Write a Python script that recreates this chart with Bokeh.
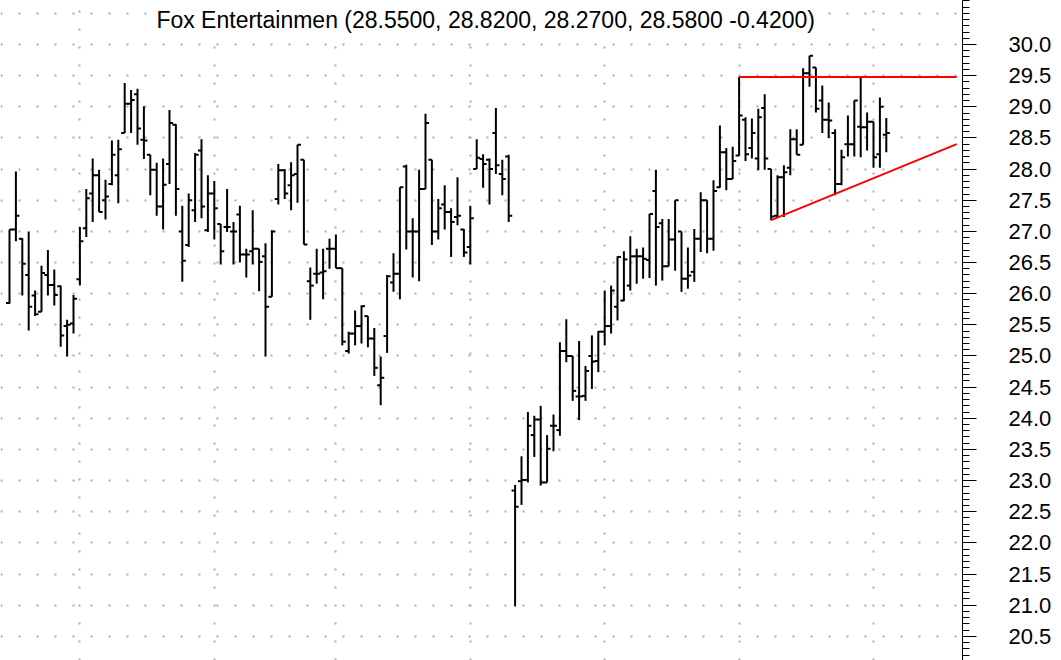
from bokeh.plotting import figure
from bokeh.models import (ColumnDataSource, Range1d, FixedTicker, Label,
                          PrintfTickFormatter)
from bokeh.transform import dodge
from bokeh.embed import file_html
from bokeh.resources import INLINE

# ---------------- data ----------------
opens = [25.85, 27.03, 26.88, 26.30, 25.97, 25.71, 26.30, 26.14, 26.12, 25.48,
         25.52, 26.23, 27.05, 27.61, 27.90, 27.50, 27.76, 27.90, 28.58, 29.05,
         29.20, 28.47, 28.23, 27.99, 27.40, 28.08, 28.71, 27.00, 26.78, 27.34,
         28.30, 27.02, 27.61, 27.12, 27.07, 27.00, 27.27, 26.63, 26.68, 26.72,
         26.60, 25.95, 27.52, 27.98, 27.74, 27.92, 28.15, 26.20, 26.32, 26.34,
         26.72, 26.72, 26.41, 25.08, 25.36, 25.48, 25.64, 25.28, 24.53, 25.32,
         26.18, 26.32, 28.04, 27.00, 27.00, 27.68, 28.15, 27.00, 27.43, 27.31,
         27.23, 27.03, 26.75, 28.00, 28.16, 28.15, 28.58, 27.92, 28.20, 22.84,
         22.99, 23.01, 23.73, 23.98, 22.97, 23.88, 23.81, 25.08, 25.00, 24.35,
         24.36, 25.00, 24.92, 25.39, 25.48, 25.79, 25.89, 26.13, 26.60, 26.60,
         26.54, 27.65, 27.13, 26.44, 26.87, 27.00, 26.24, 26.35, 26.88, 27.50,
         26.88, 27.71, 28.27, 27.84, 28.22, 28.79, 28.34, 28.17, 28.98, 28.00,
         27.25, 27.87, 28.02, 28.48, 28.39, 29.54, 29.63, 29.10, 28.79, 28.58,
         27.76, 28.40, 28.40, 28.68, 28.67, 28.76, 28.24, 28.55]
highs = [27.03, 27.96, 26.89, 27.00, 26.05, 26.45, 26.70, 26.39, 26.13, 25.58,
         25.98, 27.07, 27.68, 28.17, 27.99, 27.83, 28.46, 28.47, 29.38, 29.27,
         29.29, 29.01, 28.23, 28.10, 28.17, 28.95, 28.72, 27.41, 27.61, 28.26,
         28.48, 27.90, 27.81, 27.12, 27.68, 27.15, 27.41, 26.72, 27.34, 26.72,
         26.81, 27.02, 28.08, 28.00, 28.11, 28.39, 28.15, 26.42, 26.72, 26.72,
         26.88, 26.95, 26.41, 25.39, 25.73, 25.81, 25.64, 25.45, 24.99, 26.30,
         26.65, 27.71, 28.07, 27.21, 27.99, 28.89, 28.15, 27.52, 27.74, 27.37,
         27.87, 27.04, 27.41, 28.48, 28.24, 28.17, 28.98, 28.15, 28.23, 22.93,
         23.39, 24.10, 24.04, 24.20, 23.73, 24.06, 25.22, 25.59, 25.00, 25.24,
         24.84, 25.33, 25.40, 26.05, 26.13, 26.60, 26.68, 26.92, 26.72, 26.74,
         27.28, 27.99, 27.20, 27.20, 27.50, 27.00, 26.74, 27.04, 27.63, 27.50,
         27.82, 28.70, 28.34, 28.36, 29.48, 28.83, 28.81, 28.97, 29.20, 28.00,
         27.90, 28.06, 28.64, 28.64, 29.62, 29.82, 29.63, 29.34, 29.07, 28.64,
         28.31, 28.86, 29.10, 29.47, 28.91, 28.76, 29.15, 28.82]
lows = [25.84, 26.84, 25.97, 25.41, 25.64, 25.71, 25.97, 25.81, 25.15, 24.99,
        25.36, 26.13, 26.91, 27.15, 27.31, 27.19, 27.74, 27.45, 28.58, 28.58,
        28.39, 28.16, 27.58, 27.25, 27.03, 27.76, 27.25, 26.19, 26.75, 27.15,
        27.21, 26.99, 26.87, 26.47, 26.99, 26.47, 26.50, 26.26, 26.47, 26.04,
        24.99, 25.95, 27.43, 27.52, 27.34, 27.46, 26.79, 25.58, 26.16, 25.91,
        26.40, 26.41, 25.17, 25.04, 25.17, 25.20, 25.14, 24.68, 24.21, 25.05,
        26.03, 25.91, 26.71, 26.26, 26.20, 27.68, 26.78, 26.87, 27.03, 26.59,
        27.10, 26.59, 26.47, 28.00, 27.70, 27.43, 27.92, 27.58, 27.15, 20.98,
        22.61, 22.97, 23.38, 22.92, 22.97, 23.47, 23.72, 24.90, 24.28, 23.97,
        24.28, 24.47, 24.74, 25.17, 25.36, 25.57, 25.88, 26.05, 26.16, 26.24,
        26.25, 26.13, 26.21, 26.44, 26.37, 26.03, 26.08, 26.19, 26.67, 26.65,
        26.69, 27.70, 27.66, 27.84, 28.22, 28.13, 28.17, 27.98, 27.99, 27.18,
        27.23, 27.23, 27.90, 28.23, 28.39, 29.32, 28.91, 28.58, 28.50, 27.58,
        27.74, 28.20, 28.20, 28.19, 28.30, 28.02, 28.02, 28.27]
closes = [27.03, 27.25, 26.48, 25.79, 25.67, 26.33, 26.14, 25.98, 25.33, 25.50,
          25.92, 26.84, 27.53, 27.90, 27.31, 27.56, 28.23, 28.32, 29.05, 29.11,
          28.65, 28.46, 27.99, 27.40, 27.75, 28.74, 27.68, 26.53, 27.50, 28.23,
          27.40, 27.61, 27.37, 26.68, 27.07, 27.00, 26.63, 26.63, 26.72, 26.51,
          25.79, 27.00, 27.98, 27.61, 27.90, 28.39, 26.79, 26.13, 26.32, 26.36,
          26.72, 26.41, 25.23, 25.36, 25.48, 25.80, 25.28, 24.81, 24.65, 26.28,
          26.32, 27.71, 27.00, 27.00, 27.68, 28.74, 27.00, 27.37, 27.31, 27.15,
          27.25, 26.66, 27.21, 28.18, 28.08, 28.00, 28.06, 27.84, 27.25, 22.58,
          23.01, 23.88, 23.98, 22.97, 23.51, 23.88, 25.08, 25.00, 24.44, 24.35,
          24.76, 24.91, 25.39, 25.48, 26.05, 26.59, 26.55, 26.60, 26.60, 26.56,
          27.28, 27.07, 26.44, 26.87, 27.50, 26.24, 26.29, 26.88, 27.50, 26.88,
          27.65, 28.27, 27.84, 28.13, 28.86, 28.24, 28.58, 28.83, 28.17, 27.24,
          27.87, 27.95, 28.48, 28.23, 29.54, 29.82, 28.97, 28.79, 28.78, 27.76,
          28.19, 28.40, 29.10, 28.67, 28.76, 28.19, 29.00, 28.58]

month_start_bars = [11, 32, 51, 72, 93, 114, 135]
price_ticks = [20.5, 21.0, 21.5, 22.0, 22.5, 23.0, 23.5, 24.0, 24.5, 25.0,
               25.5, 26.0, 26.5, 27.0, 27.5, 28.0, 28.5, 29.0, 29.5, 30.0]
grid_levels = price_ticks + [30.5]

# trend lines (bar index, price)
trend_x0 = [114, 119]
trend_y0 = [29.48, 27.18]
trend_x1 = [148, 148]
trend_y1 = [29.48, 28.40]

name = "Fox Entertainmen"

# ---------------- figure ----------------
idx = list(range(len(opens)))
src = ColumnDataSource(dict(x=idx, o=opens, h=highs, l=lows, c=closes))

p = figure(frame_width=962, frame_height=660, output_backend="svg",
           toolbar_location=None, title=None,
           x_axis_location=None, y_axis_location="right",
           x_range=Range1d(-1.406, 148.906), y_range=Range1d(20.112, 30.706),
           min_border=0, min_border_right=99)
p.outline_line_color = None
p.background_fill_color = "white"
p.border_fill_color = "white"

# grids (dotted)
p.ygrid.ticker = FixedTicker(ticks=grid_levels)
p.xgrid.ticker = FixedTicker(ticks=month_start_bars)
for g in (p.xgrid, p.ygrid):
    g.grid_line_color = "#aaaaaa"
    g.grid_line_dash = "2 16"
    g.grid_line_width = 2

# right axis
minor = [round(20.1 + 0.1 * k, 1) for k in range(107)]
ax = p.yaxis[0]
ax.ticker = FixedTicker(ticks=price_ticks, minor_ticks=minor)
ax.formatter = PrintfTickFormatter(format="%.1f")
ax.axis_line_color = "black"
ax.axis_line_width = 1
ax.major_tick_out = 14
ax.major_tick_in = 0
ax.minor_tick_out = 7
ax.minor_tick_in = 0
ax.major_tick_line_color = "black"
ax.minor_tick_line_color = "black"
ax.major_label_standoff = 32
ax.major_label_text_font = "Liberation Sans"
ax.major_label_text_font_size = "22px"
ax.major_label_text_color = "black"

# OHLC bars
p.segment(x0="x", y0="l", x1="x", y1="h", source=src, line_color="black", line_width=2)
p.segment(x0=dodge("x", -0.55, range=p.x_range), y0="o", x1="x", y1="o",
          source=src, line_color="black", line_width=2)
p.segment(x0="x", y0="c", x1=dodge("x", 0.55, range=p.x_range), y1="c",
          source=src, line_color="black", line_width=2)

# trend lines
p.segment(x0=trend_x0, y0=trend_y0, x1=trend_x1, y1=trend_y1,
          line_color="#ff0000", line_width=2)

# title
chg = closes[-1] - closes[-2]
title = "%s (%.4f, %.4f, %.4f, %.4f %.4f)" % (name, opens[-1], highs[-1], lows[-1], closes[-1], chg)
p.add_layout(Label(x=74.4, y=30.385, text=title, text_align="center",
                   text_baseline="alphabetic", text_font="Liberation Sans",
                   text_font_size="23px", text_color="black",
                   background_fill_color="white"))

open("out.html", "w").write(file_html(p, INLINE))
